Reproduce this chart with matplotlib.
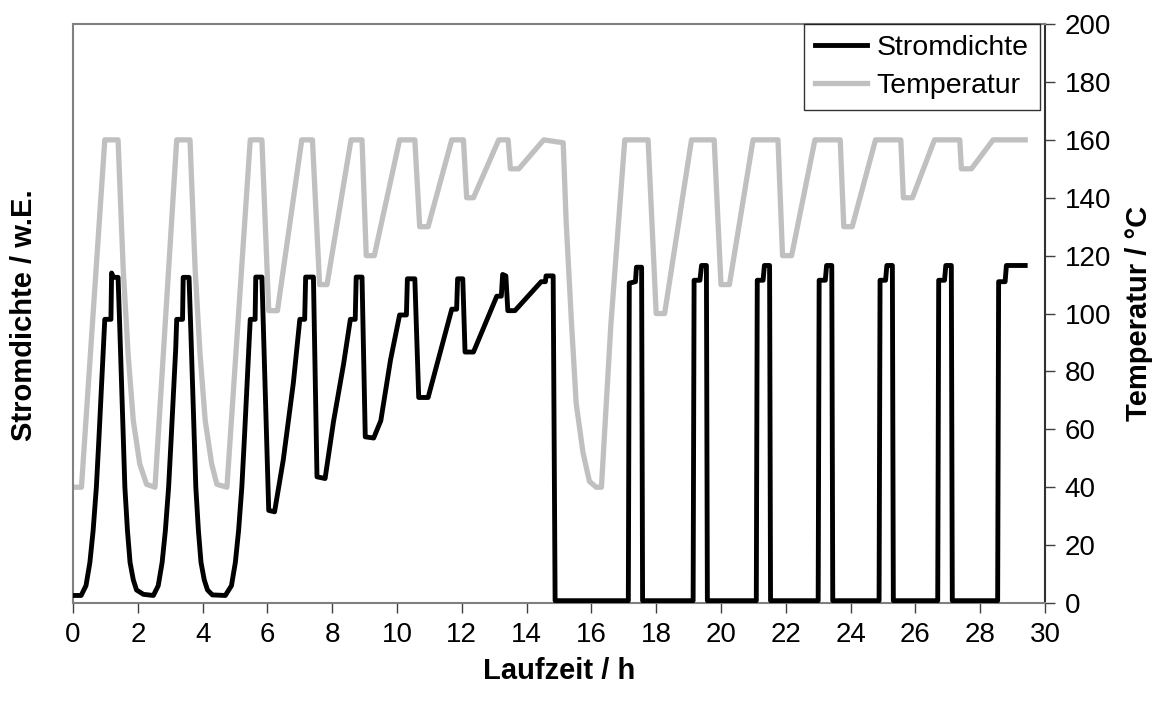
import matplotlib
matplotlib.use('Agg')
from matplotlib import pyplot as plt

plt.rcParams['font.family'] = ['Liberation Sans', 'DejaVu Sans']

# Temperatur / °C
t_temp = [0, 0.26, 0.98, 1.39, 1.45, 1.55, 1.70, 1.86, 2.06, 2.27, 2.53,
          3.2, 3.61, 3.67, 3.77, 3.92, 4.08, 4.28, 4.44, 4.75,
          5.47, 5.83, 6.04, 6.31, 7.06, 7.39, 7.61, 7.84, 8.58, 8.92, 9.05, 9.3,
          10.08, 10.55, 10.7, 10.96, 11.69, 12.05, 12.15, 12.36, 13.14, 13.43, 13.5, 13.76,
          14.53, 15.13, 15.22, 15.38, 15.53, 15.74, 15.94, 16.15, 16.31, 16.6,
          17.03, 17.75, 18.0, 18.26, 19.09, 19.79, 20.0, 20.26, 20.99, 21.76, 21.9, 22.18,
          22.9, 23.68, 23.79, 24.05, 24.77, 25.55, 25.63, 25.91, 26.59, 27.37, 27.42, 27.73,
          28.4, 29.39]
temp = [40, 40, 160, 160, 143, 115, 86, 63, 48, 41, 40,
        160, 160, 143, 115, 86, 63, 48, 41, 40,
        160, 160, 101, 101, 160, 160, 110, 110, 160, 160, 120, 120,
        160, 160, 130, 130, 160, 160, 140, 140, 160, 160, 150, 150,
        160, 159, 132, 98, 69, 52, 42, 40, 40, 96,
        160, 160, 100, 100, 160, 160, 110, 110, 160, 160, 120, 120,
        160, 160, 130, 130, 160, 160, 140, 140, 160, 160, 150, 150,
        160, 160]

# Stromdichte / w.E.
t_strom = [0, 0.25, 0.4, 0.52, 0.62, 0.72, 0.8, 0.88, 0.94, 0.98, 1.17, 1.19, 1.25, 1.39,
           1.44, 1.5, 1.55, 1.6, 1.68, 1.76, 1.86, 1.96, 2.17, 2.48,
           2.63, 2.75, 2.85, 2.95, 3.03, 3.11, 3.17, 3.2, 3.38, 3.4, 3.58,
           3.63, 3.69, 3.74, 3.79, 3.87, 3.95, 4.05, 4.15, 4.3, 4.7,
           4.89, 5.01, 5.11, 5.21, 5.29, 5.37, 5.43, 5.47, 5.62, 5.64, 5.83, 6.04, 6.22,
           6.49, 6.8, 7.0, 7.15, 7.18, 7.42, 7.53, 7.78,
           8.04, 8.35, 8.56, 8.71, 8.74, 8.92, 9.02, 9.28,
           9.5, 9.8, 10.08, 10.29, 10.32, 10.55, 10.67, 10.96,
           11.69, 11.84, 11.87, 12.03, 12.1, 12.36, 13.08, 13.22, 13.26, 13.36, 13.42, 13.64,
           14.45, 14.58, 14.6, 14.82, 14.88,
           17.14, 17.17, 17.36, 17.39, 17.55, 17.58,
           19.14, 19.17, 19.35, 19.4, 19.55, 19.58,
           21.09, 21.12, 21.3, 21.34, 21.5, 21.53,
           23.0, 23.03, 23.22, 23.26, 23.42, 23.45,
           24.88, 24.91, 25.08, 25.12, 25.29, 25.32,
           26.69, 26.72, 26.9, 26.94, 27.11, 27.14,
           28.54, 28.57, 28.77, 28.81, 29.39]
strom = [2.6, 2.6, 6, 14, 25, 40, 57, 75, 88, 98, 98, 114, 112.5, 112.5,
         96, 75, 57, 40, 25, 14, 8, 4.5, 3, 2.6,
         6, 14, 25, 40, 57, 75, 88, 98, 98, 112.5, 112.5,
         96, 75, 57, 40, 25, 14, 8, 4.5, 2.8, 2.6,
         6, 14, 25, 40, 57, 75, 88, 98, 98, 112.6, 112.6, 32, 31.5,
         49.5, 76, 98, 98, 112.6, 112.6, 43.6, 43,
         62.7, 82.5, 98, 98, 112.6, 112.6, 57.4, 57,
         63, 84, 99.5, 99.5, 112, 112, 71, 71,
         101.5, 101.5, 112, 112, 86.7, 86.7, 106, 106, 113.5, 113, 101, 101,
         111, 111, 113, 113, 0.8,
         0.8, 110.5, 111, 116, 116, 0.8,
         0.8, 111.5, 111.5, 116.6, 116.6, 0.8,
         0.8, 111.5, 111.5, 116.6, 116.6, 0.8,
         0.8, 111.5, 111.5, 116.6, 116.6, 0.8,
         0.8, 111.5, 111.5, 116.6, 116.6, 0.8,
         0.8, 111.5, 111.5, 116.6, 116.6, 0.8,
         0.8, 111, 111, 116.6, 116.6]

x_ticks = list(range(0, 31, 2))
y_ticks = list(range(0, 201, 20))

fig = plt.figure(figsize=(11.63, 7.08), dpi=100)
ax = fig.add_axes([0.0628, 0.1483, 0.8357, 0.8177])

ax.plot(t_temp, temp, color='#c0c0c0', lw=3.8, solid_joinstyle='round', label='Temperatur', zorder=2)
ax.plot(t_strom, strom, color='black', lw=3.5, solid_joinstyle='round', label='Stromdichte', zorder=3)

ax.set_xlim(0, 30)
ax.set_ylim(0, 200)
ax.set_xticks(x_ticks)
ax.set_yticks(y_ticks)
ax.yaxis.tick_right()
ax.yaxis.set_label_position('right')
ax.tick_params(axis='both', direction='out', length=7, width=1, colors='#404040',
               labelsize=20, labelcolor='black', pad=7)
for s in ax.spines.values():
    s.set_color('#808080')
    s.set_linewidth(1.5)
ax.spines['right'].set_color('#303030')

ax.set_xlabel('Laufzeit / h', fontsize=21, fontweight='bold', labelpad=6)
ax.set_ylabel('Temperatur / °C', fontsize=21, fontweight='bold', labelpad=10)
fig.text(0.021, 0.555, 'Stromdichte / w.E.', rotation=90, fontsize=21, fontweight='bold',
         ha='center', va='center')

h, l = ax.get_legend_handles_labels()
leg = ax.legend(h[::-1], l[::-1], loc='upper right', bbox_to_anchor=(0.995, 1.0),
                prop={'size': 20.5}, frameon=True, fancybox=False, borderaxespad=0,
                handlelength=1.8, handletextpad=0.35, labelspacing=0.4, borderpad=0.4)
leg.get_frame().set_edgecolor('black')
leg.get_frame().set_linewidth(1.0)

plt.savefig('out.png', dpi=100)
